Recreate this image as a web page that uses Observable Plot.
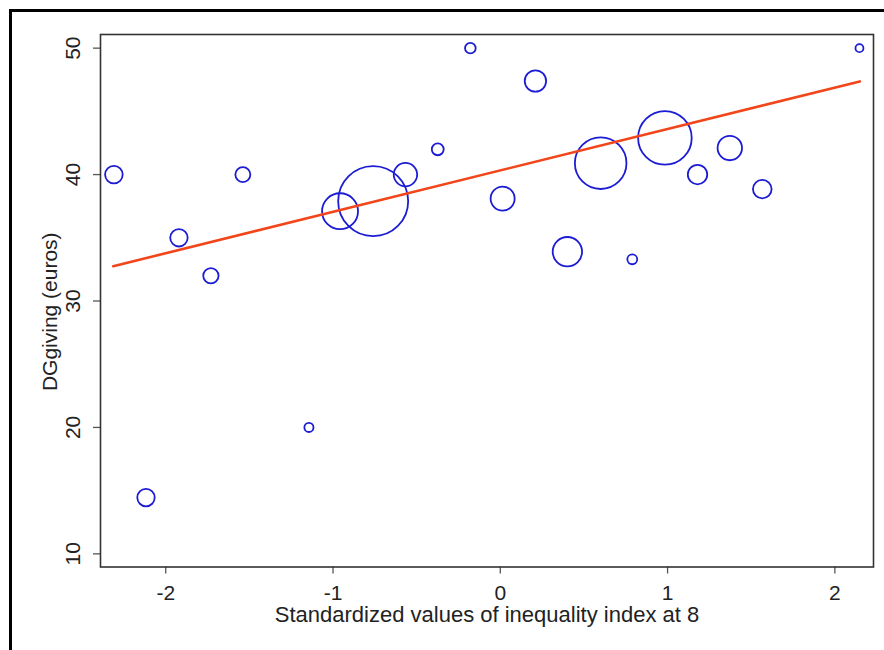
<!DOCTYPE html>
<html>
<head>
<meta charset="utf-8">
<script src="https://cdn.jsdelivr.net/npm/d3@7"></script>
<script src="https://cdn.jsdelivr.net/npm/@observablehq/plot@0.6"></script>
<style>
  html, body { margin: 0; padding: 0; background: #fff; }
  #wrap { position: relative; width: 884px; height: 650px; overflow: hidden; }
  #outer { position: absolute; left: 9px; top: 9px; width: 1000px; height: 1000px;
           border-top: 3px solid #000; border-left: 3px solid #000; box-sizing: border-box; }
  #chart { position: absolute; left: 0; top: 0; }
</style>
</head>
<body>
<div id="wrap"><div id="outer"></div><div id="chart"></div></div>
<script>
// Standardized inequality index (x), DG giving in euros (y), bubble weight
const inequality = [-2.31, -2.118, -1.921, -1.73, -1.539, -1.144, -0.958, -0.76, -0.567, -0.374, -0.179,
                    0.014, 0.21, 0.401, 0.60, 0.789, 0.984, 1.179, 1.372, 1.566, 2.147];
const giving     = [40.0, 14.45, 35.0, 32.0, 40.0, 20.0, 37.1, 37.9, 40.0, 42.0, 50.0,
                    38.1, 47.4, 33.9, 40.9, 33.3, 42.9, 40.0, 42.1, 38.85, 50.0];
const weight     = [6.3, 6.2, 6.2, 4.8, 4.6, 1.7, 26.4, 100, 11.2, 2.9, 2.3,
                    11.8, 9.3, 17.6, 54.3, 2.0, 58.6, 7.7, 12.2, 7.1, 1.3];
// fitted line endpoints
const fitX = [-2.314, 2.149];
const fitY = [32.75, 47.37];
const xTicks = [-2, -1, 0, 1, 2];
const yTicks = [10, 20, 30, 40, 50];
const xLabel = "Standardized values of inequality index at 8";
const yLabel = "DGgiving (euros)";

const points = inequality.map((x, i) => ({x, y: giving[i], w: weight[i]}));
const fit = fitX.map((x, i) => ({x, y: fitY[i]}));

const font = "'Liberation Sans', Arial, Helvetica, sans-serif";

const chart = Plot.plot({
  width: 884,
  height: 650,
  marginLeft: 100,
  marginRight: 11,
  marginTop: 34,
  marginBottom: 83.5,
  style: {fontFamily: font, background: "transparent", color: "#222"},
  x: {domain: [-2.39, 2.231]},
  y: {domain: [8.96, 51.08]},
  r: {type: "sqrt", domain: [0, 100], range: [0, 35]},
  marks: [
    Plot.dot(points, {x: "x", y: "y", r: "w", stroke: "#1c1cd4", strokeWidth: 1.8, fill: "none"}),
    Plot.line(fit, {x: "x", y: "y", stroke: "#f2461a", strokeWidth: 2.6}),
    Plot.axisX({ticks: xTicks, tickSize: 7, tickPadding: 11, fontSize: 21, label: null,
                tickFormat: d => String(d),
                stroke: "#555", strokeWidth: 1.3, color: "#222"}),
    Plot.axisY({ticks: yTicks, tickSize: 7, tickFormat: () => "", label: null,
                stroke: "#555", strokeWidth: 1.3}),
    Plot.text(yTicks, {y: d => d, frameAnchor: "left", text: d => String(d), rotate: -90,
                       dx: -27, fontSize: 21, lineAnchor: "middle", textAnchor: "middle", fill: "#222"}),
    Plot.text([yLabel], {frameAnchor: "left", rotate: -90, dx: -50, dy: 11, fontSize: 21,
                         lineAnchor: "middle", textAnchor: "middle", fill: "#222"}),
    Plot.text([xLabel], {frameAnchor: "bottom", dy: 48, fontSize: 22,
                         lineAnchor: "middle", textAnchor: "middle", fill: "#222"}),
    Plot.frame({stroke: "#333", strokeWidth: 1.6})
  ]
});
document.getElementById("chart").appendChild(chart);
</script>
</body>
</html>
